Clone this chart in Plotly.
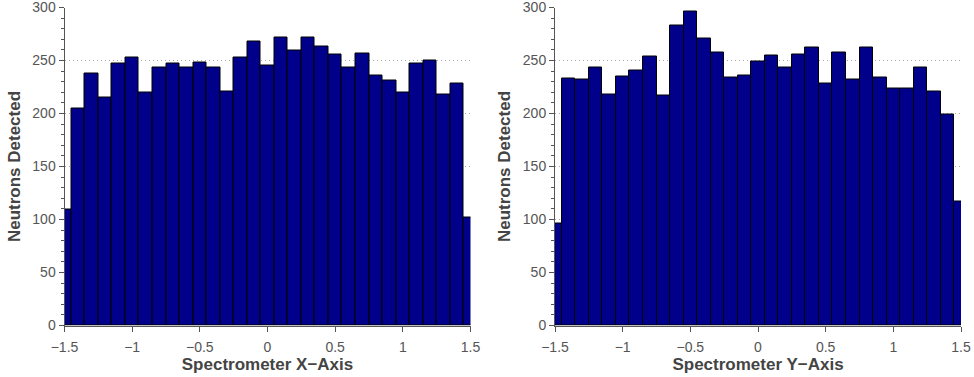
import plotly.graph_objects as go

bin_centers = [round(-1.5 + 0.1 * i, 1) for i in range(31)]

x_counts = [109, 205, 238, 215, 247, 253, 220, 243, 247, 243, 248, 243, 221, 253, 268,
            245, 272, 259, 272, 263, 256, 243, 257, 236, 231, 220, 247, 250, 218, 228, 102]
y_counts = [96, 233, 232, 243, 218, 235, 241, 254, 217, 283, 296, 271, 258, 234, 236,
            249, 255, 243, 256, 262, 228, 258, 232, 262, 234, 224, 224, 243, 221, 199, 117]

x_titles = ["Spectrometer X\u2212Axis", "Spectrometer Y\u2212Axis"]
y_title = "Neutrons Detected"

W, H = 974, 377
FONT = "Liberation Sans, Arial, sans-serif"
GRAY = "#555555"

fig = go.Figure()
series = [x_counts, y_counts]
for i, counts in enumerate(series):
    xa = "x" if i == 0 else "x2"
    ya = "y" if i == 0 else "y2"
    fig.add_trace(go.Bar(
        x=bin_centers, y=counts, width=0.1,
        marker=dict(color="#00008B", line=dict(color="#000000", width=1)),
        xaxis=xa, yaxis=ya, showlegend=False,
    ))

x_domains = [[64.5 / W, 470.5 / W], [555 / W, 961 / W]]
y_domain = [(H - 325.5) / H, (H - 7.5) / H]

layout = dict(
    width=W, height=H,
    margin=dict(l=0, r=0, t=0, b=0, autoexpand=False),
    paper_bgcolor="white", plot_bgcolor="white",
    bargap=0,
    font=dict(family=FONT, size=14, color=GRAY),
)
for i in range(2):
    sx = "" if i == 0 else "2"
    layout["xaxis" + sx] = dict(
        domain=x_domains[i], range=[-1.5, 1.5], automargin=False,
        tickmode="array", tickvals=[-1.5, -1, -0.5, 0, 0.5, 1, 1.5],
        ticktext=["\u22121.5", "\u22121", "\u22120.5", "0", "0.5", "1", "1.5"],
        ticks="outside", ticklen=5, tickcolor=GRAY, tickwidth=1,
        ticklabelstandoff=4,
        showline=True, linecolor=GRAY, linewidth=1,
        showgrid=False, zeroline=False, ticklabeloverflow="allow",
        tickfont=dict(size=14, color=GRAY, family=FONT),
        title=dict(text="<b>" + x_titles[i] + "</b>", standoff=0,
                   font=dict(size=17, color="#444444", family=FONT)),
        anchor="y" + sx,
    )
    layout["yaxis" + sx] = dict(
        domain=y_domain, range=[0, 300.001], automargin=False,
        tickmode="array", tickvals=[0, 50, 100, 150, 200, 250, 300],
        ticks="outside", ticklen=5, tickcolor=GRAY, tickwidth=1,
        minor=dict(tickmode="linear", tick0=0, dtick=10, ticks="outside", ticklen=3,
                   tickcolor=GRAY, showgrid=False),
        showline=True, linecolor=GRAY, linewidth=1,
        showgrid=True, gridcolor="#aaaaaa", griddash="1px,3px", gridwidth=1,
        zeroline=False, ticklabeloverflow="allow",
        tickfont=dict(size=14, color=GRAY, family=FONT),
        title=dict(text="<b>" + y_title + "</b>", standoff=7,
                   font=dict(size=17, color="#444444", family=FONT)),
        anchor="x" + sx,
    )

fig.update_layout(**layout)
fig.write_html("out.html",
               config={"displayModeBar": False},
               post_script="document.body.style.margin='0';document.body.style.overflow='hidden';")
